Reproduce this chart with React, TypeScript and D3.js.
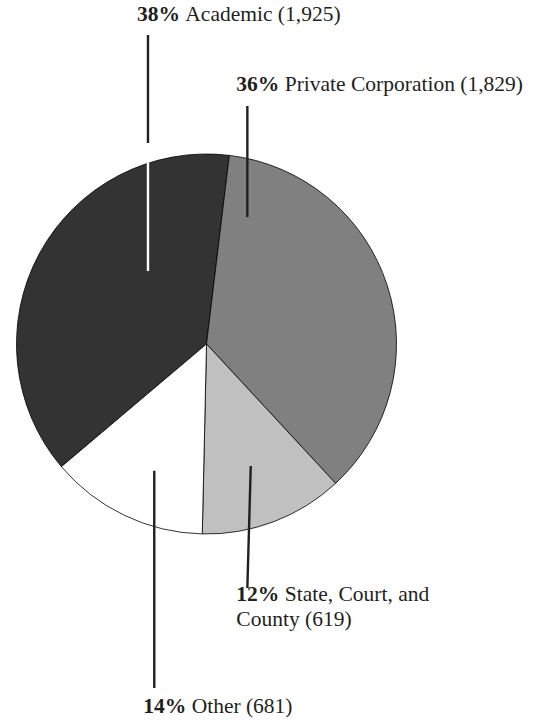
import { useEffect, useRef } from 'react'
import * as d3 from 'd3'

const CATEGORIES = ['Academic', 'Private Corporation', 'State, Court, and County', 'Other']
const COUNTS = [1925, 1829, 619, 681]
const PERCENT_LABELS = ['38%', '36%', '12%', '14%']
const COUNT_LABELS = ['1,925', '1,829', '619', '681']

const FILLS = ['#333333', '#808080', '#c0c0c0', '#ffffff']

// leader lines, in units of the pie radius from the centre (ix/iy = inside end, ox = outside x)
// oy = outside end (page px), lines = label text lines, ly = first baseline
const LEADERS = [
  { ix: -0.308, iy: -0.384, ox: -0.308, oy: 35, brk: 143, ly: 21, lines: null },
  { ix: 0.215, iy: -0.668, ox: 0.215, oy: 106, brk: null, ly: 91, lines: null },
  { ix: 0.233, iy: 0.642, ox: 0.215, oy: 588, brk: null, ly: 601, lines: ['State, Court, and', 'County'] },
  { ix: -0.275, iy: 0.667, ox: -0.275, oy: 688, brk: null, ly: 713, lines: null },
]

const W = 549
const H = 724

export default function App() {
  const svgRef = useRef<SVGSVGElement | null>(null)

  useEffect(() => {
    const el = svgRef.current
    if (!el) return
    const svg = d3.select(el)
    svg.selectAll('*').remove()

    const cx = 206.5
    const cy = 344
    const r = 190

    const data = CATEGORIES.map((c, i) => ({ name: c, value: COUNTS[i], i }))
    const total = d3.sum(COUNTS)
    // private corporation slice starts just right of 12 o'clock
    const start = (6.9 * Math.PI) / 180 - (COUNTS[0] / total) * 2 * Math.PI

    const pie = d3
      .pie<any>()
      .value((d) => d.value)
      .sort(null)
      .startAngle(start)
      .endAngle(start + 2 * Math.PI)

    const arc = d3.arc<any>().innerRadius(0).outerRadius(r)

    const g = svg.append('g').attr('transform', `translate(${cx},${cy})`)
    g.selectAll('path')
      .data(pie(data))
      .join('path')
      .attr('d', arc)
      .attr('fill', (d) => FILLS[d.data.i])
      .attr('stroke', '#000')
      .attr('stroke-width', 0.8)
      .attr('stroke-linejoin', 'round')

    const font = "'Liberation Serif', 'Times New Roman', serif"

    LEADERS.forEach((L, i) => {
      const x1 = cx + L.ix * r
      const y1 = cy + L.iy * r
      const x2 = cx + L.ox * r
      const y2 = L.oy
      if (L.brk != null) {
        // white inside the dark slice, black outside
        svg.append('line')
          .attr('x1', x1).attr('y1', y1).attr('x2', x2).attr('y2', L.brk)
          .attr('stroke', '#ffffff').attr('stroke-width', 2.4)
        svg.append('line')
          .attr('x1', x2).attr('y1', L.brk).attr('x2', x2).attr('y2', y2)
          .attr('stroke', '#231f20').attr('stroke-width', 2.4)
      } else {
        svg.append('line')
          .attr('x1', x1).attr('y1', y1).attr('x2', x2).attr('y2', y2)
          .attr('stroke', '#231f20').attr('stroke-width', 2.4)
      }

      const lx = x2 - 11
      const lines = L.lines || [CATEGORIES[i]]
      const t = svg.append('text')
        .attr('x', lx)
        .attr('y', L.ly)
        .attr('font-family', font)
        .attr('font-size', 21.5)
        .attr('fill', '#231f20')
      t.append('tspan').attr('font-weight', 'bold').text(PERCENT_LABELS[i] + ' ')
      if (lines.length === 1) {
        t.append('tspan').text(`${lines[0]} (${COUNT_LABELS[i]})`)
      } else {
        t.append('tspan').text(lines[0])
        t.append('tspan')
          .attr('x', lx)
          .attr('dy', 25)
          .text(`${lines[1]} (${COUNT_LABELS[i]})`)
      }
    })
  }, [])

  return (
    <svg
      ref={svgRef}
      width={W}
      height={H}
      style={{ position: 'absolute', left: 0, top: 0, display: 'block', background: '#fff' }}
    />
  )
}
